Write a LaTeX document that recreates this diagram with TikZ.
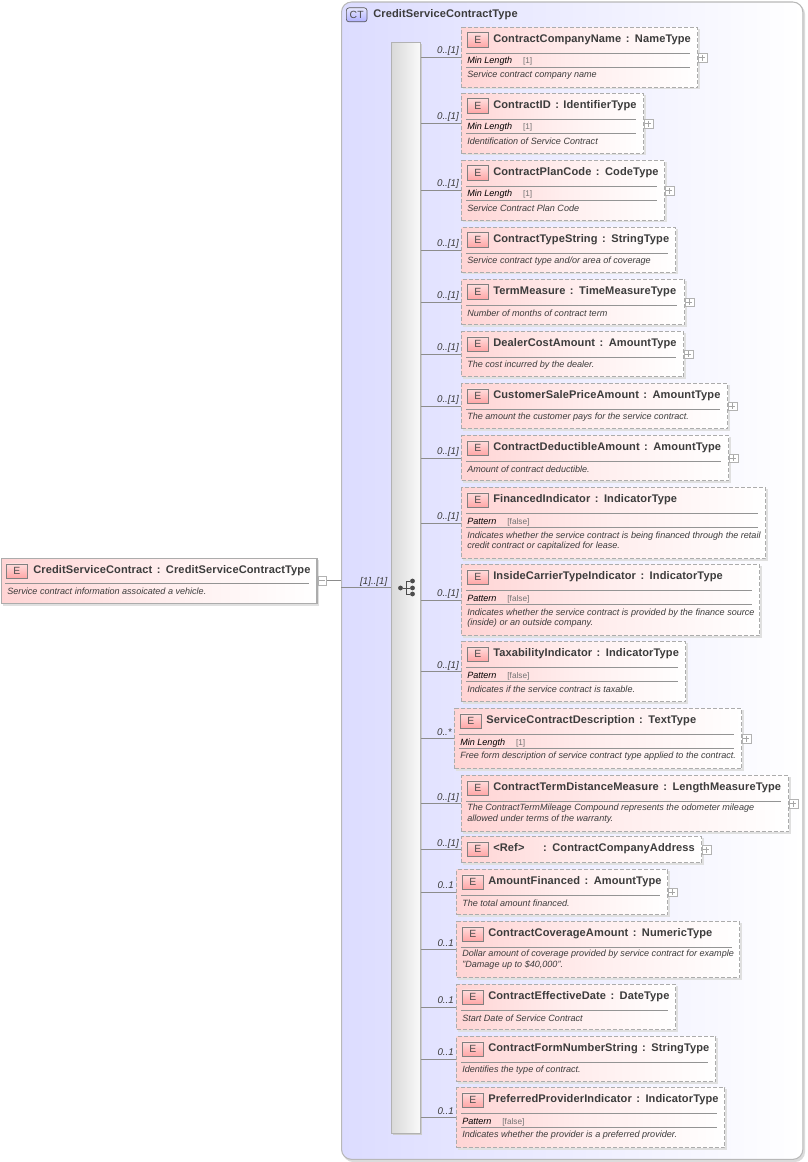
\documentclass[tikz,border=0pt]{standalone}
\usepackage{fontspec}
\setmainfont{Liberation Sans}
\newfontfamily\titlefont[LetterSpace=1.0,WordSpace=1.4]{Liberation Sans}
\definecolor{ink}{RGB}{60,60,60}
\definecolor{bord}{RGB}{172,172,172}
\definecolor{pinkA}{RGB}{255,212,212}
\definecolor{ctA}{RGB}{220,220,255}
\newcommand{\titlesize}{\fontsize{8.3}{10}\selectfont\bfseries\titlefont}
\newcommand{\descsize}{\fontsize{6.8}{7.9}\selectfont\itshape}
\usetikzlibrary{calc}
\tikzset{
  x=0.75pt,y=-0.75pt,
  wire/.style={draw=black!45,line width=0.5pt},
  elembox/.style={rectangle,inner sep=0pt,anchor=north west,left color=pinkA,right color=white,middle color=pinkA!40!white,draw=bord,dash pattern=on 3pt off 1.5pt,line width=1pt},
  rootbox/.style={rectangle,inner sep=0pt,anchor=north west,left color=pinkA,right color=white,middle color=pinkA!40!white,draw=bord,line width=1pt},
  shadowbox/.style={fill=black!12,draw=none},
  rulel/.style={draw=black!42,line width=0.5pt},
  eicon/.style={rectangle,anchor=north west,inner sep=0pt,minimum width=15.5pt,minimum height=10.6pt,top color=pinkA!80!white,bottom color=red!35!white,draw=black!50,line width=0.6pt,text=black!70,font=\fontsize{7.8}{8}\selectfont},
  titletext/.style={anchor=base west,inner sep=0pt,text=ink,font=\titlesize},
  desctext/.style={anchor=west,inner sep=0pt,text=ink,font=\descsize,align=left},
  facetname/.style={anchor=base west,inner sep=0pt,text=black,font=\descsize},
  facetval/.style={anchor=base west,inner sep=0pt,text=black!55,font=\fontsize{6.2}{7}\selectfont},
  cardtext/.style={anchor=base east,inner sep=0pt,text=ink,font=\fontsize{7.3}{8}\selectfont\itshape},
  plusbox/.style={rectangle,inner sep=0pt,minimum width=6.6pt,minimum height=6.4pt,draw=black!30,line width=0.4pt,fill=white,anchor=west},
  plusbar/.style={draw=black!35,line width=0.4pt},
  seqdot/.style={circle,fill=black!70,inner sep=0pt,minimum size=3.6pt},
  seqline/.style={draw=black!70,line width=0.7pt},
}
% #1 id, #2 x1, #3 y1, #4 x2, #5 y2, #6 title, #7 cardinality, #8 facet name, #9 facet value
\newcommand{\elem}[9]{%
  \pgfmathsetmacro{\bw}{(#4-#2-1)*0.75}%
  \pgfmathsetmacro{\bh}{(#5-#3)*0.75}%
  \fill[shadowbox] (#2+2,#3+2) rectangle (#4+2,#5+2.5);
  \node[elembox,minimum width=\bw pt,minimum height=\bh pt] (#1) at (#2,#3) {};
  \node[eicon] (#1E) at (#2+6,#3+5.5) {E};
  \node[titletext] (#1T) at (#2+32,#3+15.5) {#6};
  \draw[wire] (seq.east |- #1.west) -- (#1.west);
  \node[cardtext] (#1C) at (#2-2,#3/2+#5/2-3) {#7};
  \pgfmathparse{(#5-#3)>30 ? 1 : 0}%
  \ifnum\pgfmathresult=1
    \draw[rulel] (#2+5,#3+26) -- (#4-8,#3+26);
  \fi
  \ifx&#8&\else
    \node[facetname] (#1F) at (#2+6,#3+37) {#8};
    \node[facetval,xshift=7.8pt] (#1V) at (#1F.base east) {#9};
    \draw[rulel] (#2+5,#3+40) -- (#4-8,#3+40);
  \fi
}
% #1 id, #2 x, #3 y (centre), #4 text
\newcommand{\elemdesc}[4]{\node[desctext] (#1D) at (#2,#3) {#4};}
\newcommand{\pluscon}[1]{%
  \node[plusbox,xshift=-0.4pt] (#1P) at (#1.east) {};
  \draw[plusbar] ($(#1P.center)+(-3,0)$) -- ($(#1P.center)+(3,0)$);
  \draw[plusbar] ($(#1P.center)+(0,-3)$) -- ($(#1P.center)+(0,3)$);
}
\begin{document}
\begin{tikzpicture}
\useasboundingbox (0,0) rectangle (807,1162);
% complex type container
\fill[black!14,rounded corners=7.5pt] (343,4) rectangle (805,1162);
\node[rectangle,anchor=north west,inner sep=0pt,minimum width=346pt,minimum height=868pt,rounded corners=7.5pt,left color=ctA,right color=white,draw=black!28,line width=0.8pt] (ct) at (341,1.5) {};
\node[rectangle,rounded corners=2pt,anchor=north west,inner sep=0pt,minimum width=15.5pt,minimum height=10.5pt,top color=ctA!70!white,bottom color=ctA!80!blue,draw=black!65,line width=0.5pt,text=black!70,font=\fontsize{7.8}{8}\selectfont] (cticon) at (346,7.5) {CT};
\node[titletext] (ctT) at (373,17.5) {CreditServiceContractType};
% sequence bar
\fill[black!20] (393,44) rectangle (422,1135);
\node[rectangle,anchor=north west,inner sep=0pt,minimum width=21.75pt,minimum height=818.25pt,left color=black!15,right color=black!2,draw=black!30,line width=0.6pt] (seq) at (391,42) {};
% root
\fill[shadowbox] (3,560) rectangle (319,606);
\node[rootbox,minimum width=236.5pt,minimum height=33.75pt] (root) at (1,558) {};
\node[eicon] (rootE) at (6,563.5) {E};
\node[titletext] (rootT) at (33,573.5) {CreditServiceContract : CreditServiceContractType};
\draw[rulel] (5,583) -- (309,583);
\node[desctext] (rootD) at (7,591) {Service contract information assoicated a vehicle.};
\node[plusbox] (rootP) at (317.5,580.5) {};
\draw[plusbar] ($(rootP.center)+(-3,0)$) -- ($(rootP.center)+(3,0)$);
\coordinate (jn) at (341,587);
\draw[wire] (rootP.east) -- (ct.west |- rootP.east);
\draw[wire] (jn) -- (seq.west |- jn);
\node[cardtext] (rootC) at (387.5,584) {[1]..[1]};
% sequence symbol
\node[seqdot] (sa) at (400.5,588) {};
\node[seqdot] (sb) at (412.5,581) {};
\node[seqdot] (sc) at (412.5,588) {};
\node[seqdot] (sd) at (412.5,594) {};
\draw[seqline] (sa) -- (sc);
\draw[seqline] (sb) -- (406,581) -- (406,594) -- (sd);

\elem{a}{461}{27}{698}{87}{ContractCompanyName : NameType}{0..[1]}{Min Length}{[1]}
\elemdesc{a}{467}{75}{Service contract company name}\pluscon{a}
\elem{b}{461}{93}{644}{153}{ContractID : IdentifierType}{0..[1]}{Min Length}{[1]}
\elemdesc{b}{467}{141}{Identification of Service Contract}\pluscon{b}
\elem{c}{461}{160}{665}{220}{ContractPlanCode : CodeType}{0..[1]}{Min Length}{[1]}
\elemdesc{c}{467}{208}{Service Contract Plan Code}\pluscon{c}
\elem{d}{461}{227}{676}{272}{ContractTypeString : StringType}{0..[1]}{}{}
\elemdesc{d}{467}{261}{Service contract type and/or area of coverage}
\elem{e}{461}{279}{685}{324}{TermMeasure : TimeMeasureType}{0..[1]}{}{}
\elemdesc{e}{467}{313}{Number of months of contract term}\pluscon{e}
\elem{f}{461}{331}{684}{376}{DealerCostAmount : AmountType}{0..[1]}{}{}
\elemdesc{f}{467}{365}{The cost incurred by the dealer.}\pluscon{f}
\elem{g}{461}{383}{728}{428}{CustomerSalePriceAmount : AmountType}{0..[1]}{}{}
\elemdesc{g}{467}{417}{The amount the customer pays for the service contract.}\pluscon{g}
\elem{h}{461}{435}{729}{480}{ContractDeductibleAmount : AmountType}{0..[1]}{}{}
\elemdesc{h}{467}{469}{Amount of contract deductible.}\pluscon{h}
\elem{i}{461}{487}{766}{558}{FinancedIndicator : IndicatorType}{0..[1]}{Pattern}{[false]}
\elemdesc{i}{467}{541}{Indicates whether the service contract is being financed through the retail\\credit contract or capitalized for lease.}
\elem{j}{461}{564}{760}{635}{InsideCarrierTypeIndicator : IndicatorType}{0..[1]}{Pattern}{[false]}
\elemdesc{j}{467}{618}{Indicates whether the service contract is provided by the finance source\\(inside) or an outside company.}
\elem{k}{461}{641}{686}{701}{TaxabilityIndicator : IndicatorType}{0..[1]}{Pattern}{[false]}
\elemdesc{k}{467}{689}{Indicates if the service contract is taxable.}
\elem{l}{454}{708}{742}{768}{ServiceContractDescription : TextType}{0..*}{Min Length}{[1]}
\elemdesc{l}{460}{756}{Free form description of service contract type applied to the contract.}\pluscon{l}
\elem{m}{461}{775}{789}{831}{ContractTermDistanceMeasure : LengthMeasureType}{0..[1]}{}{}
\elemdesc{m}{467}{813.5}{The ContractTermMileage Compound represents the odometer mileage\\allowed under terms of the warranty.}\pluscon{m}
\elem{n}{461}{836}{702}{862}{<Ref>\hspace{14pt}: ContractCompanyAddress}{0..[1]}{}{}
\pluscon{n}
\elem{o}{456}{869}{668}{914}{AmountFinanced : AmountType}{0..1}{}{}
\elemdesc{o}{462}{903}{The total amount financed.}\pluscon{o}
\elem{p}{456}{921}{740}{977}{ContractCoverageAmount : NumericType}{0..1}{}{}
\elemdesc{p}{462}{959.5}{Dollar amount of coverage provided by service contract for example\\"Damage up to \$40,000".}
\elem{q}{456}{984}{676}{1029}{ContractEffectiveDate : DateType}{0..1}{}{}
\elemdesc{q}{462}{1018}{Start Date of Service Contract}
\elem{r}{456}{1036}{716}{1081}{ContractFormNumberString : StringType}{0..1}{}{}
\elemdesc{r}{462}{1070}{Identifies the type of contract.}
\elem{s}{456}{1087}{725}{1147}{PreferredProviderIndicator : IndicatorType}{0..1}{Pattern}{[false]}
\elemdesc{s}{462}{1135}{Indicates whether the provider is a preferred provider.}
\end{tikzpicture}
\end{document}
